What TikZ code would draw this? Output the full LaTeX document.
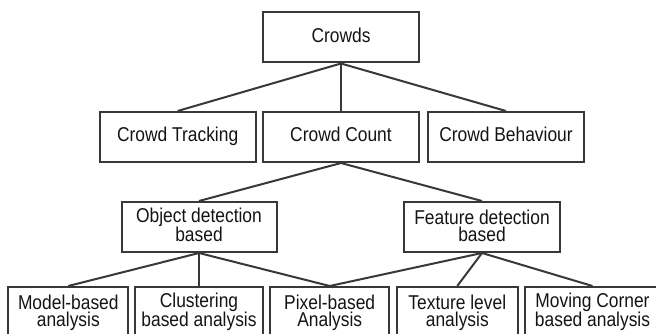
\documentclass[tikz,border=0pt]{standalone}
\usepackage{fontspec}
\setmainfont[FakeStretch=0.87]{Liberation Sans}
\begin{document}
\begin{tikzpicture}[x=1pt,y=-1pt,
  box/.style={draw=black!78, line width=2pt, inner sep=0pt, minimum height=50pt,
    font=\fontsize{20}{17.7}\selectfont, align=center, text=black!92},
  one/.style={box, text height=15pt, text depth=5pt},
  two/.style={box, text height=33pt, text depth=3.6pt},
  link/.style={draw=black!78, line width=2pt}]
\clip (0,0) rectangle (656,334);
\node[one, minimum width=156pt] (crowds) at (341,37.5) {Crowds};
\node[one, minimum width=156pt] (track) at (177.6,137) {Crowd Tracking};
\node[one, minimum width=156pt] (count) at (341,137) {Crowd Count};
\node[one, minimum width=156pt] (behav) at (506,137) {Crowd Behaviour};
\node[two, minimum width=155pt] (obj) at (199,227) {Object detection\\based};
\node[two, minimum width=156pt] (feat) at (482,227) {Feature detection\\based};
\node[two, minimum width=120pt] (model) at (68.3,312) {Model-based\\analysis};
\node[two, minimum width=128.6pt] (clust) at (199,312) {Clustering\\based analysis};
\node[two, minimum width=119.3pt] (pixel) at (329.7,312) {Pixel-based\\Analysis};
\node[two, minimum width=120.7pt] (text) at (457.3,312) {Texture level\\analysis};
\node[two, minimum width=135pt] (moving) at (592.5,312) {Moving Corner\\based analysis};
\draw[link] (crowds.south) -- (track.north);
\draw[link] (crowds.south) -- (count.north);
\draw[link] (crowds.south) -- (behav.north);
\draw[link] (count.south) -- (obj.north);
\draw[link] (count.south) -- (feat.north);
\draw[link] (obj.south) -- (model.north);
\draw[link] (obj.south) -- (clust.north);
\draw[link] (obj.south) -- (pixel.north);
\draw[link] (feat.south) -- (pixel.north);
\draw[link] (feat.south) -- (text.north);
\draw[link] (feat.south) -- (moving.north);
\end{tikzpicture}
\end{document}
